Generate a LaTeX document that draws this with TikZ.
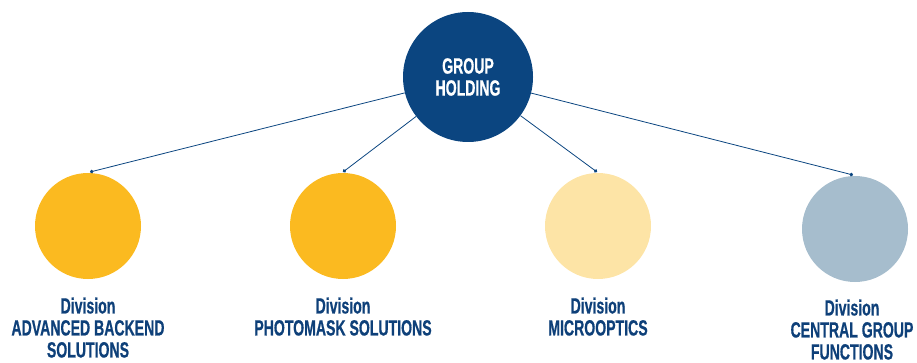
\documentclass[tikz,border=0pt]{standalone}
\usepackage{fontspec}
\setmainfont[FakeStretch=0.64, BoldFont={Liberation Sans Bold}, BoldFeatures={FakeStretch=0.64, FakeBold=0.6}]{Liberation Sans}
\usetikzlibrary{arrows.meta, positioning}
\definecolor{holdblue}{HTML}{0B4580}
\definecolor{textblue}{HTML}{0E4079}
\definecolor{divgold}{HTML}{FBBA20}
\definecolor{divpale}{HTML}{FDE4A6}
\definecolor{divgrey}{HTML}{A6BDCD}
\tikzset{
    holding/.style={circle, fill=holdblue, minimum size=130pt, inner sep=0pt,
        text=white, font=\fontsize{22}{22}\selectfont\bfseries, align=center},
    division/.style={circle, minimum size=106pt, inner sep=0pt},
    divlabel/.style={text=textblue, font=\fontsize{22}{22}\selectfont\bfseries, align=center, anchor=north},
    branch/.style={holdblue, line width=0.8pt, -{Circle[length=3.5pt]}}
}

\begin{document}
\begin{tikzpicture}[x=1pt, y=-1pt]
    \useasboundingbox (0,0) rectangle (917,363);
    \node[holding] (hold) at (468,77) {GROUP\\HOLDING};
    % divisions
    \node[division, fill=divgold] (d1) at (88,226) {};
    \node[division, fill=divgold] (d2) at (343,226) {};
    \node[division, fill=divpale] (d3) at (598,226) {};
    \node[division, fill=divgrey] (d4) at (855,229) {};
    \coordinate (t1) at (90,172);
    \coordinate (t2) at (343,172);
    \coordinate (t3) at (597,172);
    \coordinate (t4) at (853,175);
    \foreach \i in {1,...,4}{
    \draw[branch] (hold) -- (t\i);}
    \node[divlabel] (l1) at (88,294) {Division\\ADVANCED BACKEND\\SOLUTIONS};
    \node[divlabel] (l2) at (343,294) {Division\\PHOTOMASK SOLUTIONS};
    \node[divlabel] (l3) at (598,294) {Division\\MICROOPTICS};
    \node[divlabel] (l4) at (852,296) {Division\\CENTRAL GROUP\\FUNCTIONS};
\end{tikzpicture}
\end{document}
